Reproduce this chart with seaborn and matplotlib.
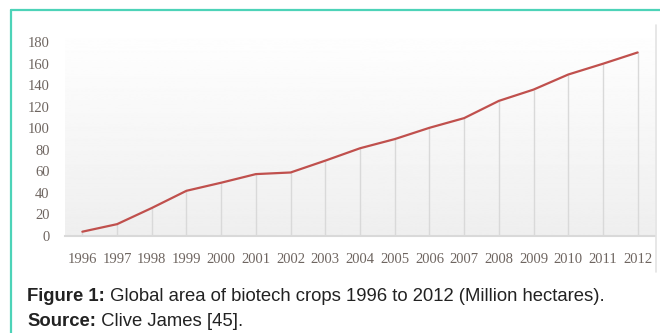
import numpy as np
import matplotlib
matplotlib.use("Agg")
import matplotlib.pyplot as plt
from matplotlib.lines import Line2D
import seaborn as sns

# ------------------------------
# Data
# ------------------------------
years = [1996, 1997, 1998, 1999, 2000, 2001, 2002, 2003, 2004,
         2005, 2006, 2007, 2008, 2009, 2010, 2011, 2012]
area_mha = [4, 11, 26, 42, 49.5, 57.5, 59, 70, 81.5,
            90, 100.5, 109.5, 125.5, 136, 150, 160, 170.5]
y_ticks = [0, 20, 40, 60, 80, 100, 120, 140, 160, 180]
caption_bold = "Figure 1:"
caption_text = " Global area of biotech crops 1996 to 2012 (Million hectares)."
source_bold = "Source:"
source_text = " Clive James [45]."

sns.set_style("white")
plt.rcParams["font.family"] = ["Liberation Serif", "DejaVu Serif"]

W, H = 660, 333
fig = plt.figure(figsize=(W / 100, H / 100), dpi=100)
ax = fig.add_axes([65 / W, 1 - 236 / H, (655 - 65) / W, (236 - 25) / H])

# gradient background inside the plot area
grad = np.linspace(1.0, 0.935, 256).reshape(-1, 1)
ax.imshow(grad, cmap="gray", vmin=0, vmax=1, aspect="auto",
          extent=[1995.5, 2012.5, 0, 196], origin="upper", zorder=0)

# drop lines under every point
ax.vlines(years, 0, area_mha, color="#d9d9d9", linewidth=1.0, zorder=1)

sns.lineplot(x=years, y=area_mha, ax=ax, color="#c0504d", linewidth=1.6,
             zorder=3, legend=False)

ax.set_xlim(1995.5, 2012.5)
ax.set_ylim(0, 196)
ax.set_xticks(years)
ax.set_xticklabels([str(y) for y in years])
ax.set_yticks(y_ticks)
ax.tick_params(axis="both", length=0, labelsize=10.5, labelcolor="#6e6560")
ax.tick_params(axis="x", pad=12)
ax.tick_params(axis="y", pad=11)
ax.set_xlabel("")
ax.set_ylabel("")
for side in ["top", "right", "left"]:
    ax.spines[side].set_visible(False)
ax.spines["bottom"].set_color("#d9d9d9")
ax.spines["bottom"].set_linewidth(1.5)
ax.spines["bottom"].set_zorder(2)

# frame pieces: teal border (top and left) and the grey right edge
fig.add_artist(Line2D([11 / W, 11 / W], [0, 1 - 10 / H],
                      transform=fig.transFigure, color="#4dd3b8", linewidth=1.6))
fig.add_artist(Line2D([11 / W, 1], [1 - 10 / H, 1 - 10 / H],
                      transform=fig.transFigure, color="#4dd3b8", linewidth=1.6))
fig.add_artist(Line2D([656 / W, 656 / W], [1 - 25 / H, 1 - 272 / H],
                      transform=fig.transFigure, color="#e3e3e3", linewidth=1.2))

# caption with bold lead-ins
renderer = fig.canvas.get_renderer()
sans = ["Liberation Sans", "DejaVu Sans"]
for yy, bold, rest in [(301, caption_bold, caption_text), (326, source_bold, source_text)]:
    t = fig.text(27 / W, 1 - yy / H, bold, fontsize=13.3, fontweight="bold",
                 family=sans, color="#222222", va="baseline", ha="left")
    bb = t.get_window_extent(renderer=renderer)
    fig.text(bb.x1 / W, 1 - yy / H, rest, fontsize=13.3, family=sans,
             color="#222222", va="baseline", ha="left")

fig.savefig("out.png", dpi=100)
